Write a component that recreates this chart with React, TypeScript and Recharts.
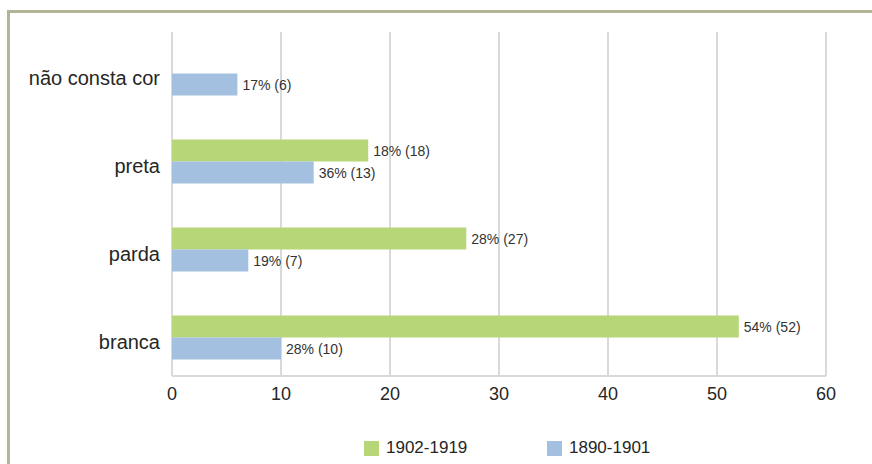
import React from 'react';
import { BarChart, Bar, XAxis, YAxis, CartesianGrid, LabelList } from 'recharts';

const categories = ['não consta cor', 'preta', 'parda', 'branca'];
const count1902 = [null, 18, 27, 52];
const pct1902 = [null, 18, 28, 54];
const count1890 = [6, 13, 7, 10];
const pct1890 = [17, 36, 19, 28];
const xTicks = [0, 10, 20, 30, 40, 50, 60];

const GREEN = '#b7d677';
const BLUE = '#a4c0e0';

const data = categories.map((c, i) => ({
  cat: c,
  v1902: count1902[i],
  v1890: count1890[i],
  lab1902: count1902[i] == null ? '' : `${pct1902[i]}% (${count1902[i]})`,
  lab1890: `${pct1890[i]}% (${count1890[i]})`,
}));

const legendItems = [
  { name: '1902-1919', color: GREEN, left: 364 },
  { name: '1890-1901', color: BLUE, left: 547 },
];

export default function App() {
  return (
    <div style={{ position: 'absolute', left: 0, top: 0, width: 872, height: 464, background: '#fff', overflow: 'hidden', fontFamily: '"Liberation Sans", Arial, sans-serif' }}>
      <div style={{ position: 'absolute', left: 7, top: 10, width: 900, height: 500, borderLeft: '3px solid #b4b596', borderTop: '3px solid #b4b596' }} />
      <BarChart
        width={872}
        height={464}
        data={data}
        layout="vertical"
        margin={{ top: 32, right: 46, bottom: 58, left: 12 }}
        barCategoryGap="24.5%"
        barGap={0}
        style={{ position: 'absolute', left: 0, top: 0 }}
      >
        <CartesianGrid horizontal={false} stroke="#d9d9d9" strokeWidth={2} />
        <XAxis
          type="number"
          domain={[0, 60]}
          ticks={xTicks}
          tickLine={false}
          axisLine={{ stroke: '#d9d9d9', strokeWidth: 2 }}
          tick={{ fill: '#262626', fontSize: 18 }}
          tickMargin={5}
          height={30}
        />
        <YAxis
          type="category"
          dataKey="cat"
          width={160}
          tickLine={false}
          axisLine={false}
          tickMargin={6}
          padding={{ top: -2, bottom: -6 }}
          tick={{ fill: '#262626', fontSize: 20, dy: 4 }}
        />
        <Bar dataKey="v1902" fill={GREEN} isAnimationActive={false}>
          <LabelList dataKey="lab1902" position="right" offset={5} fill="#333" fontSize={14} />
        </Bar>
        <Bar dataKey="v1890" fill={BLUE} isAnimationActive={false}>
          <LabelList dataKey="lab1890" position="right" offset={5} fill="#333" fontSize={14} />
        </Bar>
      </BarChart>
      {legendItems.map((it) => (
        <div key={it.name} style={{ position: 'absolute', left: it.left, top: 438, display: 'flex', alignItems: 'center', fontSize: 17, color: '#262626' }}>
          <span style={{ display: 'inline-block', width: 15, height: 15, background: it.color, marginRight: 7 }} />
          {it.name}
        </div>
      ))}
    </div>
  );
}
